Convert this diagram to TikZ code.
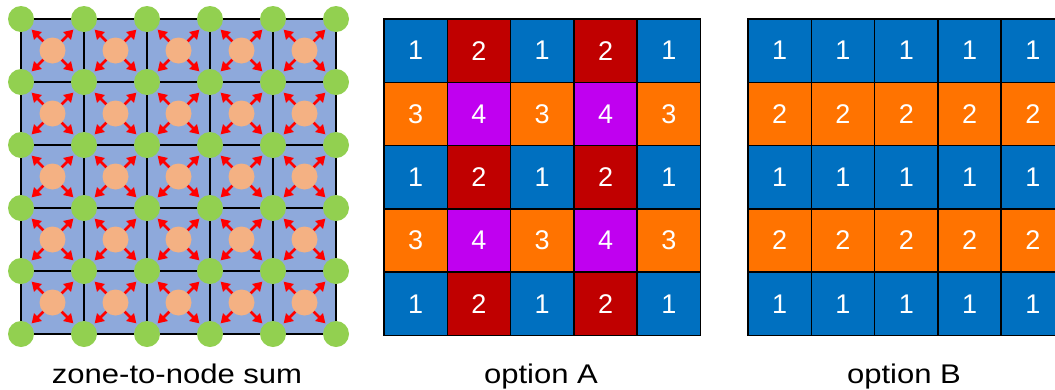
\documentclass[tikz,border=0pt]{standalone}
\usepackage{fontspec}
\setmainfont{Liberation Sans}
\newfontfamily\lblfont[FakeStretch=1.15]{Liberation Sans}
\usetikzlibrary{arrows.meta}
\definecolor{zoneblue}{HTML}{8EA9DB}
\definecolor{nodegreen}{HTML}{92D050}
\definecolor{zoneorange}{HTML}{F4B183}
\definecolor{cblue}{HTML}{0070C0}
\definecolor{cred}{HTML}{C00000}
\definecolor{corange}{HTML}{FF7300}
\definecolor{cpurple}{HTML}{C000F0}
\begin{document}
\begin{tikzpicture}[x=1pt,y=-1pt,
  gnode/.style={circle,fill=nodegreen,minimum size=26pt,inner sep=0pt,outer sep=0pt},
  znode/.style={circle,fill=zoneorange,minimum size=26pt,inner sep=0pt,outer sep=0pt},
  flow/.style={draw=red,line width=2.8pt,-{Triangle[length=9pt,width=10.5pt]},shorten >=2pt},
  gridline/.style={draw=black,line width=1.7pt},
  cell/.style={draw=black,line width=1.5pt,minimum size=63.3pt,inner sep=0pt,outer sep=0pt,text=white,font=\fontsize{27}{27}\selectfont},
  caption/.style={font=\lblfont\fontsize{27}{27}\selectfont,anchor=base}]
\useasboundingbox (0,0) rectangle (1055,389);
\clip (0,0) rectangle (1055,389);
% ---- zone-to-node sum ----
\fill[zoneblue] (21,19) rectangle (336,334);
\foreach \k in {0,...,5}{
  \draw[gridline] ({21+63*\k},19) -- ({21+63*\k},334);
  \draw[gridline] (21,{19+63*\k}) -- (336,{19+63*\k});
}
\foreach \i in {0,...,5}{\foreach \j in {0,...,5}{
  \node[gnode] (g-\i-\j) at ({21+63*\i},{19+63*\j}) {};
}}
\foreach \i in {0,...,4}{\foreach \j in {0,...,4}{
  \node[znode] (z-\i-\j) at ({52.5+63*\i},{50.5+63*\j}) {};
}}
\foreach \i in {0,...,4}{\foreach \j in {0,...,4}{
  \pgfmathtruncatemacro\ii{\i+1}
  \pgfmathtruncatemacro\jj{\j+1}
  \draw[flow] (z-\i-\j) -- (g-\i-\j);
  \draw[flow] (z-\i-\j) -- (g-\ii-\j);
  \draw[flow] (z-\i-\j) -- (g-\i-\jj);
  \draw[flow] (z-\i-\j) -- (g-\ii-\jj);
}}
% ---- option A ----
\foreach \r in {0,...,4}{\foreach \c in {0,...,4}{
  \ifodd\r
    \ifodd\c \def\cellcol{cpurple}\def\lab{4}\else\def\cellcol{corange}\def\lab{3}\fi
  \else
    \ifodd\c \def\cellcol{cred}\def\lab{2}\else\def\cellcol{cblue}\def\lab{1}\fi
  \fi
  \node[cell,fill=\cellcol] (a-\r-\c) at ({384+31.65+63.3*\c},{19+31.65+63.3*\r}) {\lab};
}}
% ---- option B ----
\foreach \r in {0,...,4}{\foreach \c in {0,...,4}{
  \ifodd\r \def\cellcol{corange}\def\lab{2}\else\def\cellcol{cblue}\def\lab{1}\fi
  \node[cell,fill=\cellcol] (b-\r-\c) at ({748+31.65+63.3*\c},{19+31.65+63.3*\r}) {\lab};
}}
% ---- captions ----
\node[caption] (capz) at (177,383) {zone-to-node sum};
\node[caption] (capa) at (541,383) {option A};
\node[caption] (capb) at (904,383) {option B};
\end{tikzpicture}
\end{document}
